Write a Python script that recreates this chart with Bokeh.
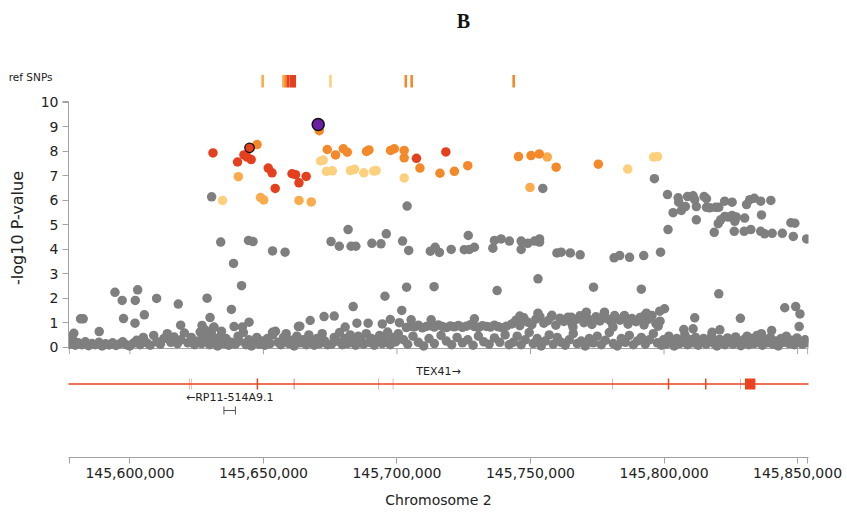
from bokeh.plotting import figure
from bokeh.models import Range1d, FixedTicker, Label, NumeralTickFormatter
from bokeh.layouts import column
from bokeh.embed import file_html
from bokeh.resources import INLINE
from bokeh.core.properties import value

# ---------------- data (positions in kb on chromosome 2, values = -log10 P) ----------------
lead_pos = [145670.5]
lead_logp = [9.09]

ref_pos = [145644.8]           # outlined red SNP
ref_logp = [8.14]

red_pos = [145631.1, 145642.7, 145643.9, 145645.4, 145640.3, 145651.8, 145653.2, 145654.4,
           145660.7, 145662.0, 145666.0, 145663.3, 145707.3, 145718.3]
red_logp = [7.93, 7.85, 7.76, 7.66, 7.56, 7.31, 7.12, 6.48,
            7.08, 7.04, 6.97, 6.71, 7.71, 7.97]

orange_pos = [145647.6, 145670.9, 145673.9, 145677.0, 145679.9, 145681.4, 145688.6, 145689.5,
              145697.6, 145699.0, 145702.7, 145702.7, 145708.6, 145716.1, 145721.5, 145726.5,
              145745.5, 145750.2, 145753.3, 145759.6, 145775.4]
orange_logp = [8.27, 8.84, 8.07, 7.85, 8.10, 7.96, 7.99, 8.05,
               8.03, 8.10, 8.03, 7.73, 7.31, 7.10, 7.18, 7.41,
               7.78, 7.82, 7.89, 7.35, 7.47]

light_pos = [145640.6, 145756.3, 145749.8, 145648.9, 145650.1, 145663.3, 145667.9]
light_logp = [6.96, 7.76, 6.52, 6.11, 6.01, 5.99, 5.93]

pale_pos = [145671.4, 145672.4, 145673.6, 145675.8, 145682.6, 145684.1, 145687.6, 145691.3,
            145692.2, 145702.7, 145786.4, 145796.1, 145797.6, 145634.7]
pale_logp = [7.60, 7.64, 7.18, 7.20, 7.21, 7.26, 7.12, 7.19,
             7.21, 6.91, 7.27, 7.76, 7.78, 5.99]

grey_hi_pos = [
    145630.6, 145634.0, 145638.8, 145641.8, 145638.0, 145644.4, 145646.1, 145653.4, 145658.1,
    145594.4, 145597.1, 145602.0, 145602.9, 145610.0, 145618.1, 145628.9, 145630.0, 145605.4,
    145597.6, 145581.5, 145582.5, 145588.5, 145579.0, 145601.9, 145619.0, 145627.0, 145644.6,
    145642.1, 145639.0, 145663.1, 145653.4, 145631.5,
    145675.3, 145678.4, 145681.7, 145682.8, 145684.6, 145690.6, 145694.0, 145696.0, 145702.1,
    145704.4, 145703.8, 145712.5, 145714.3, 145715.9, 145720.3, 145725.2, 145726.7, 145727.1,
    145729.0, 145735.9, 145736.5, 145739.0, 145742.1, 145746.5, 145746.5, 145749.0, 145751.5,
    145753.4, 145753.4, 145759.9, 145764.9, 145768.6,
    145752.8, 145737.5, 145703.6, 145713.9, 145695.5, 145683.6, 145701.8, 145672.7, 145676.5,
    145667.5, 145663.6, 145680.6, 145685.0, 145689.2, 145694.5, 145697.5, 145700.9, 145705.3,
    145712.8, 145729.0, 145746.0, 145752.8, 145757.8, 145761.2, 145765.3,
    145754.6, 145796.4, 145801.3, 145805.3, 145805.5, 145808.8, 145810.9, 145811.5, 145815.0,
    145815.9, 145803.4, 145806.5, 145808.0, 145812.1, 145812.1, 145801.5, 145815.9, 145817.1,
    145819.3, 145820.5, 145822.7, 145825.5, 145830.9, 145832.1, 145833.8, 145836.2, 145840.0,
    145820.3, 145821.2, 145822.7, 145824.0, 145825.5, 145827.1, 145826.5, 145830.2, 145836.5,
    145818.8, 145826.3, 145830.0, 145832.5, 145836.2, 145837.7, 145840.5, 145844.3, 145848.4,
    145853.4, 145847.5, 145849.0,
    145761.5, 145781.3, 145783.4, 145787.1, 145792.4, 145798.7, 145773.6, 145791.5, 145820.5,
    145845.2, 145849.3, 145850.9, 145850.6, 145828.6, 145811.5, 145807.4, 145810.9, 145820.9,
    145818.0, 145831.1, 145800.2, 145798.4, 145797.1, 145797.8, 145781.5, 145785.2, 145786.5,
    145792.7, 145793.4, 145770.9, 145777.7, 145765.9, 145780.9, 145840.3, 145836.5]
grey_hi_logp = [
    6.14, 4.29, 3.42, 2.51, 1.54, 4.36, 4.31, 3.93, 3.88,
    2.24, 1.91, 1.91, 2.34, 1.99, 1.76, 2.00, 1.21, 1.32,
    1.17, 1.16, 1.16, 0.64, 0.57, 0.98, 0.90, 0.89, 1.02,
    0.82, 0.84, 0.84, 0.61, 0.82,
    4.31, 4.12, 4.80, 4.12, 4.12, 4.24, 4.22, 4.63, 4.33,
    3.95, 5.76, 3.92, 4.08, 3.87, 3.99, 3.98, 4.56, 3.99,
    4.08, 4.04, 4.36, 4.42, 4.33, 3.99, 4.33, 4.24, 4.33,
    4.42, 4.29, 3.85, 3.85, 3.77,
    2.79, 2.31, 2.45, 2.47, 2.08, 1.66, 1.50, 1.25, 1.27,
    1.09, 0.86, 0.82, 0.98, 0.98, 0.95, 1.13, 1.00, 1.12,
    1.12, 1.16, 1.27, 1.39, 1.25, 1.16, 1.22,
    6.48, 6.88, 6.23, 6.10, 5.92, 6.15, 6.18, 6.02, 6.15,
    6.06, 5.49, 5.58, 5.74, 5.74, 5.20, 4.80, 5.71, 5.69,
    5.71, 5.71, 5.96, 5.92, 5.82, 6.02, 6.08, 5.96, 5.99,
    5.04, 5.20, 5.33, 5.31, 5.38, 5.31, 5.14, 5.27, 5.40,
    4.69, 4.73, 4.73, 4.80, 4.73, 4.63, 4.65, 4.65, 4.52,
    4.42, 5.08, 5.06,
    3.88, 3.65, 3.74, 3.67, 3.74, 3.88, 2.45, 2.37, 2.18,
    1.61, 1.66, 1.36, 0.84, 1.18, 1.20, 0.72, 0.75, 0.71,
    0.61, 0.45, 1.57, 1.47, 0.96, 0.86, 1.29, 1.29, 1.12,
    1.29, 1.39, 1.43, 1.43, 0.82, 0.82, 0.68, 0.55]

grey_band_pos = [
    145703.5, 145705.0, 145706.5, 145708.0, 145709.5, 145711.0, 145712.5, 145714.0, 145715.5,
    145717.0, 145718.5, 145720.0, 145721.5, 145723.0, 145724.5, 145726.0, 145727.5, 145729.0,
    145730.5, 145732.0, 145733.5, 145735.0, 145736.5, 145738.0, 145739.5, 145741.0,
    145743.0, 145744.5, 145746.0, 145747.5, 145749.0, 145750.5, 145752.0, 145753.5, 145755.0,
    145756.5, 145758.0, 145759.5, 145761.0, 145762.5, 145764.0, 145765.5, 145767.0, 145768.5,
    145770.0, 145771.5, 145773.0, 145774.5, 145776.0, 145777.5, 145779.0, 145780.5, 145782.0,
    145783.5, 145785.0, 145786.5, 145788.0, 145789.5, 145791.0, 145792.5, 145794.0, 145795.5,
    145797.0, 145798.5]
grey_band_logp = [
    0.80, 0.86, 0.83, 0.90, 0.79, 0.85, 0.88, 0.82, 0.91,
    0.84, 0.80, 0.87, 0.83, 0.89, 0.81, 0.86, 0.92, 0.84,
    0.80, 0.88, 0.85, 0.82, 0.90, 0.83, 0.79, 0.86,
    0.95, 1.10, 0.88, 1.20, 1.02, 0.92, 1.15, 1.25, 0.98,
    1.08, 1.30, 0.90, 1.18, 1.05, 1.22, 0.96, 1.12, 1.28,
    1.00, 1.16, 0.93, 1.24, 1.07, 1.33, 1.14, 0.99, 1.20,
    1.10, 1.26, 0.94, 1.17, 1.04, 1.21, 0.91, 1.13, 1.29,
    0.97, 1.06]

grey_low_pos = [
    145577.5, 145577.9, 145578.6, 145579.5, 145580.6, 145582.0, 145583.3, 145584.5, 145585.8,
    145587.0, 145588.4, 145589.6, 145590.9, 145592.2, 145593.5, 145594.8, 145596.0, 145597.3,
    145598.6, 145599.9, 145601.2, 145602.5, 145603.8, 145605.0, 145606.3, 145607.6, 145608.9,
    145610.1, 145611.4, 145612.7, 145614.0, 145615.3, 145616.5, 145617.8, 145619.1, 145620.4,
    145621.7, 145623.0, 145624.2, 145625.5, 145626.3,
    145626.8, 145627.5, 145628.2, 145629.0, 145629.8, 145630.5, 145631.3, 145632.0, 145632.8,
    145633.5, 145634.3, 145635.0, 145636.0, 145637.0, 145638.0, 145639.5, 145640.5, 145641.0,
    145642.5, 145643.5, 145644.5, 145645.5, 145646.5, 145647.5, 145648.5, 145649.5, 145650.5,
    145651.5, 145652.5, 145653.5, 145654.5, 145655.5, 145656.5, 145657.5, 145658.5, 145659.5,
    145660.5, 145661.5, 145662.5, 145663.8, 145665.0, 145666.0, 145667.0, 145668.0, 145669.0,
    145670.0, 145671.0, 145672.0, 145673.0, 145674.0,
    145675.5, 145676.5, 145677.5, 145678.5, 145679.5, 145680.5, 145681.5, 145682.5, 145683.5,
    145684.5, 145685.5, 145686.5, 145687.5, 145688.5, 145689.5, 145690.5, 145691.5, 145692.5,
    145693.5, 145694.5, 145695.5, 145696.5, 145697.5, 145698.5, 145699.5, 145700.5, 145701.2,
    145702.5, 145704.0, 145706.0, 145708.0, 145710.0, 145712.0, 145714.0, 145716.5, 145718.5,
    145720.5, 145722.5, 145724.5, 145726.5, 145728.5, 145730.5, 145732.5, 145734.5, 145736.5,
    145738.5, 145740.5, 145742.0,
    145743.5, 145745.0, 145746.5, 145748.0, 145749.5, 145751.0, 145752.5, 145754.0, 145755.5,
    145757.0, 145758.5, 145760.0, 145761.5, 145763.0, 145764.5, 145766.0, 145767.5, 145769.0,
    145770.5, 145772.0, 145773.5, 145775.0, 145776.5, 145778.0, 145779.5, 145781.0, 145782.5,
    145784.0, 145785.5, 145787.0, 145788.5, 145790.0, 145791.5, 145793.0, 145794.5, 145796.0,
    145797.5, 145799.0,
    145799.8, 145800.8, 145801.8, 145802.8, 145803.8, 145804.8, 145805.8, 145806.8, 145807.8,
    145808.8, 145809.8, 145810.8, 145811.8, 145812.8, 145813.8, 145814.8, 145815.8, 145816.8,
    145817.8, 145818.8, 145819.8, 145820.8, 145821.8, 145822.8, 145823.8, 145824.8, 145825.8,
    145826.8, 145827.8, 145828.8, 145829.8, 145830.8, 145831.8, 145832.8, 145833.8, 145834.8,
    145835.8, 145836.8, 145837.8, 145838.8, 145839.8, 145840.8, 145841.8, 145842.8, 145843.8,
    145844.8, 145845.8, 145846.8, 145847.8, 145848.8, 145849.8, 145850.8, 145851.8, 145852.8,
    145853.8]
grey_low_logp = [
    0.12, 0.42, 0.30, 0.08, 0.18, 0.10, 0.22, 0.06, 0.15,
    0.10, 0.20, 0.05, 0.14, 0.09, 0.18, 0.07, 0.13, 0.22,
    0.10, 0.05, 0.16, 0.28, 0.10, 0.40, 0.18, 0.08, 0.48,
    0.22, 0.12, 0.35, 0.55, 0.20, 0.42, 0.15, 0.30, 0.58,
    0.18, 0.40, 0.10, 0.25, 0.62,
    0.15, 0.45, 0.70, 0.30, 0.10, 0.55, 0.80, 0.25, 0.05,
    0.40, 0.65, 0.15, 0.35, 0.08, 0.20, 0.12, 0.45, 0.25,
    0.60, 0.10, 0.30, 0.05, 0.18, 0.40, 0.12, 0.25, 0.08,
    0.35, 0.15, 0.50, 0.65, 0.20, 0.10, 0.40, 0.55, 0.15,
    0.28, 0.05, 0.45, 0.18, 0.30, 0.10, 0.50, 0.22, 0.08,
    0.35, 0.15, 0.55, 0.25, 0.10,
    0.12, 0.40, 0.25, 0.60, 0.10, 0.35, 0.15, 0.50, 0.22,
    0.08, 0.45, 0.30, 0.12, 0.55, 0.20, 0.35, 0.08, 0.25,
    0.48, 0.15, 0.30, 0.62, 0.10, 0.40, 0.22, 0.55, 0.35,
    0.30, 0.12, 0.45, 0.20, 0.05, 0.35, 0.15, 0.48, 0.25,
    0.10, 0.40, 0.18, 0.30, 0.08, 0.45, 0.22, 0.12, 0.38,
    0.20, 0.50, 0.10,
    0.20, 0.45, 0.10, 0.30, 0.60, 0.15, 0.35, 0.05, 0.25,
    0.50, 0.12, 0.40, 0.20, 0.08, 0.30, 0.55, 0.15, 0.25,
    0.05, 0.35, 0.18, 0.45, 0.10, 0.28, 0.60, 0.15, 0.05,
    0.35, 0.20, 0.48, 0.10, 0.25, 0.40, 0.12, 0.30, 0.55,
    0.18, 0.08,
    0.30, 0.12, 0.45, 0.20, 0.05, 0.35, 0.15, 0.25, 0.50,
    0.10, 0.30, 0.18, 0.40, 0.08, 0.22, 0.35, 0.12, 0.28,
    0.45, 0.15, 0.05, 0.32, 0.20, 0.10, 0.38, 0.25, 0.12,
    0.42, 0.18, 0.06, 0.30, 0.22, 0.10, 0.35, 0.15, 0.48,
    0.25, 0.08, 0.30, 0.18, 0.40, 0.12, 0.25, 0.05, 0.35,
    0.20, 0.45, 0.15, 0.28, 0.10, 0.38, 0.22, 0.12, 0.30,
    0.18]

# "ref SNPs" track: positions (kb) and LD class
refsnp_pos = [145649.7, 145657.5, 145658.3, 145659.2, 145660.2, 145661.1, 145661.7,
              145675.1, 145703.3, 145705.5, 145743.7]
refsnp_class = ["light", "light", "orange", "red", "red", "red", "red",
                "pale", "orange", "orange", "orange"]

# genes (bp)
gene_names = ["TEX41\u2192", "\u2190RP11-514A9.1"]
gene_start = [145500000, 145635200]
gene_end = [145860000, 145639500]
tex41_exon_start = [145622100, 145622850, 145647450, 145661350, 145693000, 145698450,
                    145780700, 145801400, 145815350, 145828550, 145830300]
tex41_exon_end = [145622250, 145623000, 145648000, 145661600, 145693150, 145698600,
                  145780850, 145801950, 145815900, 145828700, 145834200]

x_ticks = [145600000, 145650000, 145700000, 145750000, 145800000, 145850000]
y_ticks = [0, 1, 2, 3, 4, 5, 6, 7, 8, 9, 10]

# ---------------- styling ----------------
X_START, X_END = 145577000, 145854100
Y_AXIS_LINE = -0.053          # where the upper panel's x axis line sits (y units)
Y_TICK_END = -0.298           # 6 px below it
FONT = "DejaVu Sans"
AXIS = "#A3A3A3"
TXT = "#222222"
COL = {"red": "#E5401E", "orange": "#F4892A", "light": "#FBAB4C", "pale": "#FDD07E",
       "grey": "#7F7F7F", "lead": "#6A1FA2"}
GENE_RED = "#E9431F"

def kb(lst):
    return [v * 1000 for v in lst]

x_range = Range1d(X_START, X_END)

def base(height, y_range, top, bottom, **kw):
    p = figure(width=847, height=height, x_range=x_range, y_range=y_range,
               output_backend="svg", toolbar_location=None,
               min_border_left=68, min_border_right=39,
               min_border_top=top, min_border_bottom=bottom, **kw)
    p.outline_line_color = None
    p.xgrid.visible = False
    p.ygrid.visible = False
    p.background_fill_color = "white"
    p.border_fill_color = "white"
    return p

# ---------- top: title + ref SNPs track ----------
pa = base(90, Range1d(0, 90), 0, 0, x_axis_location=None)
pa.yaxis.ticker = FixedTicker(ticks=[14])
pa.yaxis.major_label_overrides = {14: "ref SNPs"}
pa.yaxis.axis_line_color = None
pa.yaxis.major_tick_line_color = None
pa.yaxis.minor_tick_line_color = None
pa.yaxis.major_tick_out = 0
pa.yaxis.major_tick_in = 0
pa.yaxis.major_label_standoff = 16
pa.yaxis.major_label_text_font = FONT
pa.yaxis.major_label_text_font_size = "10.5px"
pa.yaxis.major_label_text_color = TXT
pa.rect(x=kb(refsnp_pos), y=9.2, width=2.6, width_units="screen", height=12.4,
        fill_color=[COL[c] for c in refsnp_class], line_color=None)
pa.add_layout(Label(x=145724900, y=70, text="B", text_font="Liberation Serif",
                    text_font_style="bold", text_font_size="20px", text_color="#111111",
                    text_align="center", text_baseline="middle"))

# ---------- middle: association scatter ----------
pb = base(270, Range1d(Y_TICK_END, 10.029), 11, 6, x_axis_location=None)
pb.yaxis.bounds = (Y_AXIS_LINE, 10.029)
pb.yaxis.ticker = FixedTicker(ticks=y_ticks, minor_ticks=[10.02])
pb.yaxis.axis_label = "-log10 P-value"
pb.yaxis.axis_label_text_font = FONT
pb.yaxis.axis_label_text_font_size = "16px"
pb.yaxis.axis_label_text_font_style = "normal"
pb.yaxis.axis_label_text_color = TXT
pb.yaxis.axis_label_standoff = 11
pb.yaxis.major_label_text_font = FONT
pb.yaxis.major_label_text_font_size = "14px"
pb.yaxis.major_label_text_color = TXT
pb.yaxis.major_label_standoff = 4
pb.yaxis.axis_line_color = AXIS
pb.yaxis.major_tick_line_color = AXIS
pb.yaxis.minor_tick_line_color = AXIS
pb.yaxis.major_tick_out = 6
pb.yaxis.major_tick_in = 0
pb.yaxis.minor_tick_out = 6
pb.yaxis.minor_tick_in = 0

# unlabeled x axis of the association panel (line + ticks from the tick list)
tick_x = [X_START + 300] + x_ticks + [X_END - 300]
pb.segment(x0=X_START, y0=Y_AXIS_LINE, x1=X_END, y1=Y_AXIS_LINE, line_color=AXIS, line_width=1)
pb.segment(x0=tick_x, y0=Y_AXIS_LINE, x1=tick_x, y1=Y_TICK_END, line_color=AXIS, line_width=1)

pb.scatter(kb(grey_low_pos), grey_low_logp, size=9.5, fill_color=COL["grey"], line_color=None)
pb.scatter(kb(grey_band_pos), grey_band_logp, size=9.5, fill_color=COL["grey"], line_color=None)
pb.scatter(kb(grey_hi_pos), grey_hi_logp, size=9.5, fill_color=COL["grey"], line_color=None)
pb.scatter(kb(pale_pos), pale_logp, size=9.5, fill_color=COL["pale"], line_color=None)
pb.scatter(kb(light_pos), light_logp, size=9.5, fill_color=COL["light"], line_color=None)
pb.scatter(kb(orange_pos), orange_logp, size=9.5, fill_color=COL["orange"], line_color=None)
pb.scatter(kb(red_pos), red_logp, size=9.5, fill_color=COL["red"], line_color=None)
pb.scatter(kb(ref_pos), ref_logp, size=9.5, fill_color=COL["red"], line_color="#111111",
           line_width=1.3)
pb.scatter(kb(lead_pos), lead_logp, size=12, fill_color=COL["lead"], line_color="#111111",
           line_width=1.5)

# ---------- bottom: genes + chromosome axis ----------
pc = base(154, Range1d(0, 97), 0, 57, y_axis_location=None)
pc.xaxis.ticker = FixedTicker(ticks=x_ticks, minor_ticks=[X_START + 300, X_END - 300])
pc.xaxis.formatter = NumeralTickFormatter(format="0,0")
pc.xaxis.axis_label = "Chromosome 2"
pc.xaxis.axis_label_text_font = FONT
pc.xaxis.axis_label_text_font_size = "14px"
pc.xaxis.axis_label_text_font_style = "normal"
pc.xaxis.axis_label_text_color = TXT
pc.xaxis.axis_label_standoff = 11
pc.xaxis.major_label_text_font = FONT
pc.xaxis.major_label_text_font_size = "14px"
pc.xaxis.major_label_text_color = TXT
pc.xaxis.major_label_standoff = 4
pc.xaxis.axis_line_color = AXIS
pc.xaxis.major_tick_line_color = AXIS
pc.xaxis.minor_tick_line_color = AXIS
pc.xaxis.major_tick_out = 6
pc.xaxis.major_tick_in = 0
pc.xaxis.minor_tick_out = 6
pc.xaxis.minor_tick_in = 0

# TEX41 (first gene)
pc.segment(x0=gene_start[0], y0=73.5, x1=gene_end[0], y1=73.5, line_color=GENE_RED,
           line_width=1.5)
pc.quad(left=tex41_exon_start, right=tex41_exon_end, bottom=68, top=79,
        fill_color=GENE_RED, line_color=None)
vis0 = (max(gene_start[0], X_START) + min(gene_end[0], X_END)) / 2
pc.text(x=[vis0], y=[86], text=[gene_names[0]], text_font=value(FONT), text_font_size="11px",
        text_color=TXT, text_align="center", text_baseline="middle")

# RP11-514A9.1 (second gene)
pc.segment(x0=gene_start[1], y0=47, x1=gene_end[1], y1=47, line_color="#555555", line_width=1)
pc.segment(x0=[gene_start[1], gene_end[1]], y0=43, x1=[gene_start[1], gene_end[1]], y1=51,
           line_color="#555555", line_width=1)
vis1 = (gene_start[1] + gene_end[1]) / 2
pc.text(x=[vis1], y=[60], text=[gene_names[1]], text_font=value(FONT), text_font_size="11px",
        text_color=TXT, text_align="center", text_baseline="middle")

layout = column(pa, pb, pc, spacing=0)
open("out.html", "w").write(file_html(layout, INLINE))
